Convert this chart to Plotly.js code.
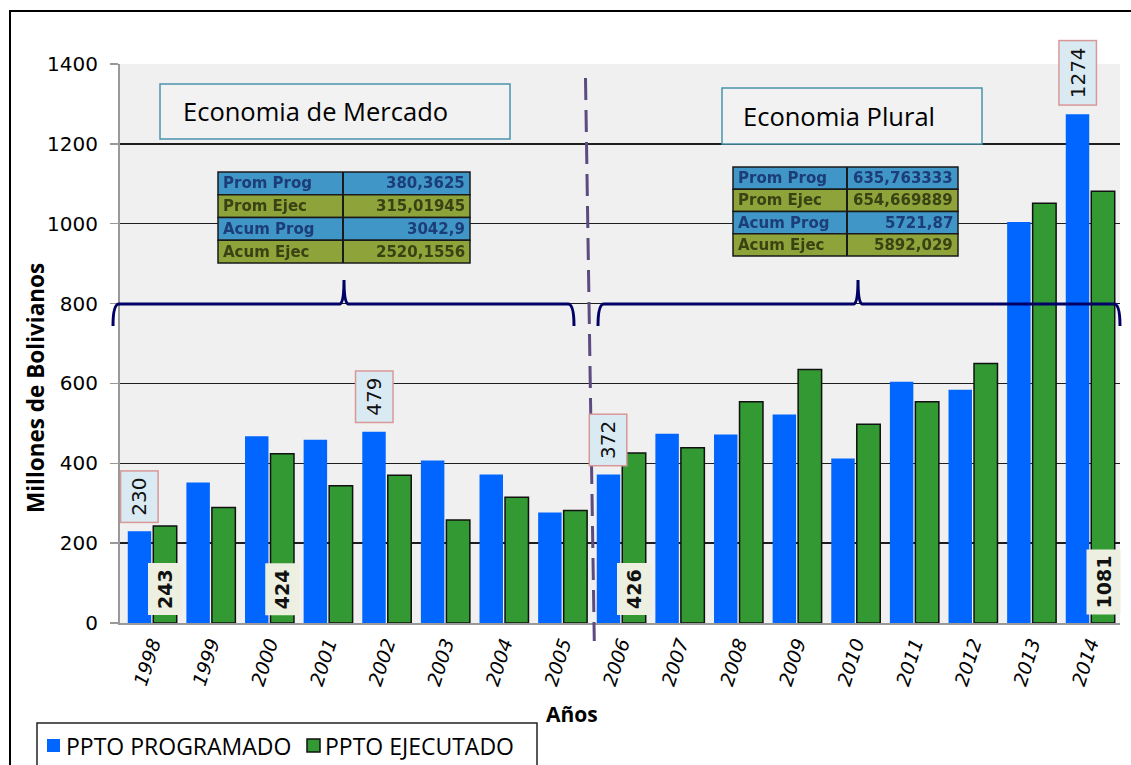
<!DOCTYPE html>
<html>
<head>
<meta charset="utf-8">
<script src="https://cdn.plot.ly/plotly-3.0.1.min.js"></script>
<style>
  html, body { margin: 0; padding: 0; background: #ffffff; }
  #chart { width: 1131px; height: 765px; }
</style>
</head>
<body>
<div id="chart"></div>
<script>
// Presupuesto programado vs ejecutado, 1998-2014 (millones de Bs)
const years = ['1998','1999','2000','2001','2002','2003','2004','2005','2006',
               '2007','2008','2009','2010','2011','2012','2013','2014'];
const programado = [230, 352, 468, 459, 479, 407, 372, 277, 372,
                    474, 472, 522, 412, 604, 584, 1004, 1274];
const ejecutado  = [243, 289, 424, 344, 370, 258, 315, 282, 426,
                    439, 554, 635, 498, 554, 650, 1051, 1081];

// Years whose bars carry a value label
const labeledProg = ['1998', '2002', '2006', '2014'];
const labeledEjec = ['1998', '2000', '2006', '2014'];

// Summary tables for each period
const tablaRotulos = ['Prom Prog', 'Prom Ejec', 'Acum Prog', 'Acum Ejec'];
const tablaMercado = ['380,3625', '315,01945', '3042,9', '2520,1556'];
const tablaPlural  = ['635,763333', '654,669889', '5721,87', '5892,029'];

const periodos = ['Economia de Mercado', 'Economia Plural'];
const serieNombres = ['PPTO PROGRAMADO', 'PPTO EJECUTADO'];

// ---- geometry helpers (page pixels -> paper fractions) ----
const M = { l: 120, r: 11, t: 64, b: 142 };
const W = 1131 - M.l - M.r, H = 765 - M.t - M.b;
const px = x => (x - M.l) / W;
const py = y => (M.t + H - y) / H;

const BLUE = '#0066ff', GREEN = '#339933';
const OFF = 0.2175; // half-slot offset of each bar inside its group
const TXT = 'Open Sans, Lato, sans-serif';

const traces = [
  { type: 'bar', name: serieNombres[0], x: years, y: programado,
    marker: { color: BLUE, line: { width: 0 } }, hoverinfo: 'x+y' },
  { type: 'bar', name: serieNombres[1], x: years, y: ejecutado,
    marker: { color: GREEN, line: { color: '#111111', width: 1.5 } }, hoverinfo: 'x+y' }
];

const shapes = [];
const annotations = [];
const blurred = [];

// outer frame of the chart area
shapes.push({ type: 'line', xref: 'paper', yref: 'paper', x0: px(10), x1: px(10), y0: py(10), y1: py(800),
              line: { color: '#000', width: 2 } });
shapes.push({ type: 'line', xref: 'paper', yref: 'paper', x0: px(10), x1: px(1140), y0: py(11), y1: py(11),
              line: { color: '#000', width: 2 } });

// period title boxes
const boxes = [
  { x0: 160, x1: 510, y0: 84, y1: 139, tx: 181 },
  { x0: 722, x1: 982, y0: 88, y1: 144, tx: 741 }
];
boxes.forEach((b, k) => {
  shapes.push({ type: 'rect', xref: 'paper', yref: 'paper',
    x0: px(b.x0), x1: px(b.x1), y0: py(b.y1), y1: py(b.y0),
    fillcolor: '#f2f2f2', line: { color: '#4b93ad', width: 1.5 } });
  annotations.push({ xref: 'paper', yref: 'paper', x: px(b.tx), y: py((b.y0 + b.y1) / 2),
    xanchor: 'left', yanchor: 'middle', showarrow: false, text: periodos[k],
    font: { family: TXT, size: 25.5, color: '#000' } });
});

// summary tables
function tabla(x0, x1, xs, y0, y1, valores) {
  const rh = (y1 - y0) / 4;
  const fills = ['#4096c6', '#8ea33a', '#4096c6', '#8ea33a'];
  const inks  = ['#1c3d78', '#3a4214', '#1c3d78', '#3a4214'];
  for (let r = 0; r < 4; r++) {
    const ya = y0 + r * rh, yb = ya + rh;
    shapes.push({ type: 'rect', xref: 'paper', yref: 'paper',
      x0: px(x0), x1: px(x1), y0: py(yb), y1: py(ya),
      fillcolor: fills[r], line: { color: '#1a1a1a', width: 1.5 } });
    blurred.push(annotations.length);
    annotations.push({ xref: 'paper', yref: 'paper', x: px(x0 + 3), y: py(ya + rh / 2),
      xanchor: 'left', yanchor: 'middle', showarrow: false, text: tablaRotulos[r],
      font: { family: 'DejaVu Sans', size: 15, weight: 'bold', color: inks[r] } });
    blurred.push(annotations.length);
    annotations.push({ xref: 'paper', yref: 'paper', x: px(x1 - 3), y: py(ya + rh / 2),
      xanchor: 'right', yanchor: 'middle', showarrow: false, text: valores[r],
      font: { family: 'DejaVu Sans', size: 15, weight: 'bold', color: inks[r] } });
  }
  shapes.push({ type: 'line', xref: 'paper', yref: 'paper', x0: px(xs), x1: px(xs), y0: py(y1), y1: py(y0),
    line: { color: '#1a1a1a', width: 2 } });
}
tabla(218, 470, 343, 172, 263, tablaMercado);
tabla(733, 958, 847, 167, 256, tablaPlural);

// curly braces spanning each period, drawn at the 800 level
function llave(xa, xm, xb) {
  const yl = 304, yt = 280, yd = 326;
  const P = (x, y) => px(x).toFixed(5) + ',' + py(y).toFixed(5);
  return 'M' + P(xa, yd) + ' Q' + P(xa, yl) + ' ' + P(xa + 6, yl) +
         ' L' + P(xm - 4, yl) + ' Q' + P(xm, yl - 2) + ' ' + P(xm, yt) +
         ' Q' + P(xm, yl - 2) + ' ' + P(xm + 4, yl) +
         ' L' + P(xb - 6, yl) + ' Q' + P(xb, yl) + ' ' + P(xb, yd);
}
[[113, 344, 574], [598, 858, 1120]].forEach(b => {
  shapes.push({ type: 'path', xref: 'paper', yref: 'paper', path: llave(b[0], b[1], b[2]),
    line: { color: '#000066', width: 3 } });
});

// dashed divider between the two periods
shapes.push({ type: 'line', xref: 'x', yref: 'paper', x0: 7.39, x1: 7.54, y0: py(78), y1: py(641),
  line: { color: '#5d4a80', width: 3, dash: '22px,10px' } });

// value labels on the programmed bars (above the bar)
labeledProg.forEach(yr => {
  const i = years.indexOf(yr);
  annotations.push({ xref: 'x', yref: 'y', x: i - OFF, y: programado[i], yanchor: 'bottom', yshift: 8,
    showarrow: false, text: String(programado[i]), textangle: -90,
    bgcolor: '#daeaf3', bordercolor: '#d99898', borderwidth: 1.5, borderpad: 6,
    font: { family: 'DejaVu Sans', size: 20, color: '#111' } });
});
// value labels on the executed bars (at the base)
labeledEjec.forEach(yr => {
  const i = years.indexOf(yr);
  annotations.push({ xref: 'x', yref: 'y', x: i + OFF, y: 0, yanchor: 'bottom', yshift: 8,
    showarrow: false, text: String(ejecutado[i]), textangle: -90,
    bgcolor: '#edf0e1', borderwidth: 0, borderpad: 6,
    font: { family: 'DejaVu Sans', size: 19, weight: 'bold', color: '#111' } });
});

// axis titles
annotations.push({ xref: 'paper', yref: 'paper', x: px(35), y: py(388), textangle: -90,
  xanchor: 'center', yanchor: 'middle', showarrow: false, text: 'Millones de Bolivianos',
  font: { family: TXT, size: 22.5, weight: 'bold', color: '#000' } });
annotations.push({ xref: 'paper', yref: 'paper', x: px(572), y: py(714),
  xanchor: 'center', yanchor: 'middle', showarrow: false, text: 'Años',
  font: { family: TXT, size: 21, weight: 'bold', color: '#000' } });

// series key below the chart
shapes.push({ type: 'rect', xref: 'paper', yref: 'paper', x0: px(37), x1: px(537), y0: py(775), y1: py(723),
  fillcolor: '#ffffff', line: { color: '#222', width: 1.5 } });
const keyItems = [
  { sx: 47, tx: 64, color: BLUE, line: { width: 0 } },
  { sx: 307, tx: 323, color: GREEN, line: { color: '#111', width: 1.5 } }
];
keyItems.forEach((k, n) => {
  shapes.push({ type: 'rect', xref: 'paper', yref: 'paper', x0: px(k.sx), x1: px(k.sx + 13),
    y0: py(752), y1: py(739), fillcolor: k.color, line: k.line });
  annotations.push({ xref: 'paper', yref: 'paper', x: px(k.tx), y: py(745.5), xanchor: 'left', yanchor: 'middle',
    showarrow: false, text: serieNombres[n], font: { family: TXT, size: 23, color: '#000' } });
});

const layout = {
  width: 1131, height: 765,
  margin: { l: M.l, r: M.r, t: M.t, b: M.b, pad: 0, autoexpand: false },
  paper_bgcolor: '#ffffff', plot_bgcolor: '#f0f0f0',
  barmode: 'group', bargap: 0.13, bargroupgap: 0.08,
  showlegend: false,
  xaxis: { type: 'category', showgrid: false, zeroline: false, automargin: false,
    showline: true, linecolor: '#999', linewidth: 2, ticks: '',
    tickangle: -72, tickfont: { family: 'DejaVu Sans', size: 19, style: 'italic', color: '#000' } },
  yaxis: { range: [0, 1400], dtick: 200, showgrid: true, gridcolor: '#1e1e1e', gridwidth: 1.5,
    zeroline: false, showline: true, linecolor: '#999', linewidth: 2, automargin: false,
    ticks: 'outside', ticklen: 8, tickcolor: '#999', tickwidth: 1.5, ticklabelstandoff: 8,
    tickfont: { family: 'DejaVu Sans', size: 20, color: '#000' } },
  shapes: shapes,
  annotations: annotations
};

Plotly.newPlot('chart', traces, layout, { displayModeBar: false, staticPlot: true }).then(gd => {
  // the summary tables are rendered softly
  blurred.forEach(i => {
    const g = gd.querySelector('.annotation[data-index="' + i + '"]');
    if (g) g.style.filter = 'blur(0.5px)';
  });
});
</script>
</body>
</html>
